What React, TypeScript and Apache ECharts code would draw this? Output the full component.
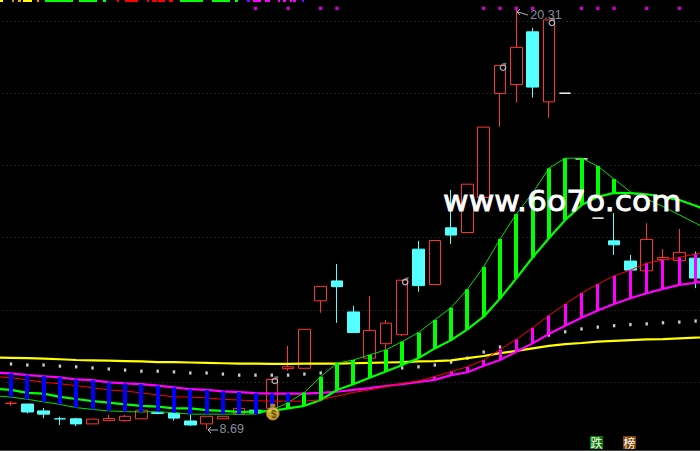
import React, { useEffect, useRef } from "react";
import * as echarts from "echarts";

// session index -1 .. 43 (the first and last sit just outside the picture)
const yellowLine = [10.68,10.67,10.66,10.65,10.63,10.61,10.60,10.59,10.58,10.57,10.55,10.55,10.54,10.53,10.52,10.51,10.51,10.50,10.50,10.51,10.51,10.51,10.52,10.53,10.54,10.55,10.57,10.58,10.60,10.66,10.72,10.80,10.86,10.93,11.00,11.05,11.08,11.12,11.14,11.16,11.18,11.19,11.21,11.23,11.24];
const whiteDots = [null,10.50,10.47,10.47,10.44,10.42,10.39,10.36,10.33,10.30,10.30,10.28,10.25,10.25,10.22,10.19,10.19,10.19,10.19,10.22,10.25,10.28,10.30,10.33,10.36,10.39,10.42,10.47,10.55,10.66,10.83,10.97,11.11,11.22,11.30,11.39,11.47,11.52,11.56,11.59,11.61,11.64,11.66,11.69,null];
const magentaLine = [10.26,10.24,10.19,10.16,10.13,10.07,10.05,9.99,9.96,9.94,9.90,9.85,9.80,9.78,9.74,9.72,9.69,9.68,9.68,9.68,9.70,9.73,9.78,9.83,9.89,9.94,10.00,10.06,10.19,10.27,10.45,10.61,10.84,11.07,11.33,11.56,11.78,11.98,12.16,12.32,12.46,12.58,12.69,12.75,12.85];
const redLine = [10.15,10.12,10.06,9.99,9.95,9.90,9.84,9.78,9.75,9.70,9.64,9.59,9.58,9.56,9.52,9.50,9.48,9.47,9.47,9.47,9.51,9.61,9.71,9.78,9.87,9.96,10.03,10.15,10.29,10.42,10.61,10.90,11.18,11.50,11.84,12.16,12.46,12.71,12.94,13.10,13.29,13.38,13.45,13.55,13.63];
const thickGreen = [9.81,9.78,9.70,9.68,9.59,9.53,9.47,9.43,9.38,9.34,9.32,9.27,9.27,9.22,9.20,9.17,9.18,9.20,9.27,9.34,9.50,9.78,9.94,10.12,10.29,10.47,10.66,10.93,11.16,11.46,11.81,12.31,12.87,13.45,13.98,14.49,14.90,15.13,15.24,15.23,15.20,15.13,15.04,14.88,14.71];
const thinGreen = [9.62,9.58,9.52,9.45,9.38,9.29,9.24,9.20,9.18,9.17,9.18,9.15,9.11,9.11,9.11,9.11,9.11,9.22,9.43,9.71,10.15,10.52,10.61,10.75,10.89,11.12,11.37,11.72,12.06,12.57,13.19,13.96,14.65,15.23,15.92,16.20,16.20,15.98,15.62,15.27,15.07,14.86,14.63,14.40,14.16];

// [open, close, low, high] for sessions 0 .. 42
const candles = [
  [9.41,9.41,9.34,9.47],[9.39,9.17,9.13,9.39],[9.20,9.11,9.00,9.28],[8.98,8.98,8.81,9.04],[8.98,8.84,8.78,9.01],
  [8.84,8.97,8.84,8.97],[8.93,8.99,8.93,9.09],[8.93,9.05,8.90,9.09],[8.98,9.22,8.98,9.22],[9.15,9.13,9.11,9.22],
  [9.14,9.00,8.93,9.14],[8.92,8.81,8.78,9.09],[8.84,9.05,8.69,9.05],[8.98,9.05,8.98,9.05],[9.11,9.27,9.11,9.27],
  [9.22,9.14,9.14,9.22],[9.27,10.07,9.27,10.07],[10.37,10.42,10.31,11.00],[10.38,11.46,10.38,11.46],[12.25,12.65,11.92,12.65],
  [12.80,12.64,11.64,13.27],[11.94,11.37,11.37,12.11],[10.66,11.43,10.66,12.38],[11.06,11.63,10.89,11.72],[11.31,12.82,11.27,12.82],
  [13.68,12.67,12.50,13.91],[12.70,13.92,12.70,13.92],[14.27,14.07,13.82,15.32],[14.14,15.48,14.14,15.48],[15.11,17.06,15.11,17.06],
  [17.99,18.77,17.07,18.77],[18.24,19.27,17.74,20.31],[19.70,18.17,17.88,19.81],[17.76,20.03,17.32,20.03],[18.00,18.00,18.00,18.00],
  [16.18,16.18,16.18,16.18],[14.54,14.54,14.54,14.54],[13.91,13.80,13.52,14.68],[13.35,13.10,13.10,13.52],[13.08,13.95,13.08,14.40],
  [13.39,13.45,13.39,13.68],[13.36,13.59,13.36,14.24],[13.43,12.88,12.60,13.61],
];
const dojiColors: Record<number, string> = { 0: "#ff3333", 3: "#54ffff", 34: "#ffffff", 35: "#ffffff", 36: "#ffffff" };

const signalSessions = [15, 17, 19, 20, 29, 30, 31, 32, 35, 36, 37, 39, 41];
const signalLevel = 20.35;
const ringMarks: [number, number][] = [[16, 10.03], [24, 12.77], [30, 18.71], [33, 19.95]];
const bagMark: [number, number] = [16, 9.14];
const lowLabel = { session: 12, value: 8.69 };
const highLabel = { session: 31, value: 20.31 };
const topStrip: [number, number, string][] = [
  [0,3,"#ffff00"],[12,2,"#c8a000"],[18,3,"#ffa000"],[23,9,"#ffff00"],[37,2,"#ff9000"],
  [45,28,"#00ff00"],[79,18,"#00ff00"],[103,3,"#00ff00"],
  [117,2,"#ff0000"],[125,13,"#ff0000"],[147,2,"#ff0000"],[152,5,"#ff0000"],[158,7,"#ff0000"],[169,4,"#ff0000"],
  [180,23,"#00ff00"],[212,18,"#00ff00"],[235,3,"#00ff00"],
  [247,3,"#8000ff"],[253,8,"#ff00ff"],[265,5,"#ff00ff"],[278,2,"#ff00ff"],[283,3,"#ff00ff"],[290,2,"#ff00ff"],[293,3,"#ff00ff"],[302,2,"#8000ff"],
];

const categories = yellowLine.map((_, i) => String(i - 1));
const pos = (session: number) => session + 1;

function barRenderer(width: number, color: string) {
  return (_: any, api: any) => {
    const a = api.coord([api.value(0), api.value(1)]);
    const b = api.coord([api.value(0), api.value(2)]);
    return {
      type: "rect",
      shape: { x: Math.round(a[0] - width / 2), y: Math.min(a[1], b[1]), width, height: Math.abs(a[1] - b[1]) },
      style: { fill: color },
    };
  };
}

export default function App() {
  const ref = useRef<HTMLDivElement>(null);
  useEffect(() => {
    document.body.style.background = "#000";
    const chart = echarts.init(ref.current!, undefined, { renderer: "svg" });

    const candleData = categories.map((_, idx) => {
      const c = candles[idx - 1];
      if (!c) return ["-", "-", "-", "-"];
      const doji = dojiColors[idx - 1];
      return doji ? { value: c, itemStyle: { borderColorDoji: doji, borderColor: doji, borderColor0: doji } } : c;
    });
    const blue: number[][] = [], green: number[][] = [], pink: number[][] = [];
    categories.forEach((_, idx) => {
      const session = idx - 1;
      if (session < 0 || session > 42) return;
      if (session <= 17 && thinGreen[idx] < magentaLine[idx]) blue.push([idx, magentaLine[idx], thinGreen[idx]]);
      if (thinGreen[idx] - thickGreen[idx] > 0.1) green.push([idx, thickGreen[idx], thinGreen[idx]]);
      if (redLine[idx] - magentaLine[idx] > 0.05) pink.push([idx, magentaLine[idx], redLine[idx]]);
    });
    const line = (data: any[], color: string, width: number, z: number) => ({
      type: "line", data, z, symbol: "none", smooth: false, silent: true,
      lineStyle: { color, width }, itemStyle: { color },
    });
    const custom = (data: number[][], w: number, color: string) => ({
      type: "custom", data, z: 7, silent: true,
      renderItem: barRenderer(w, color),
      encode: { x: 0, y: [1, 2] },
    });
    const textLabel = { color: "#aab6c0", fontFamily: "Liberation Sans", fontSize: 12.5 };

    chart.setOption({
      animation: false,
      backgroundColor: "#000",
      grid: { left: -13.45, top: -51.2, width: 733.5, height: 505.4, containLabel: false, outerBoundsMode: "none" },
      xAxis: { type: "category", data: categories, boundaryGap: true, axisLine: { show: false }, axisTick: { show: false }, axisLabel: { show: false }, splitLine: { show: false } },
      yAxis: {
        type: "value", min: 8, max: 22, interval: 2, axisLine: { show: false }, axisTick: { show: false }, axisLabel: { show: false },
        splitLine: { show: true, lineStyle: { color: "#3c3c3c", width: 1, type: [1, 3] } },
      },
      series: [
        {
          type: "candlestick", data: candleData, barWidth: 12, z: 1, silent: true,
          itemStyle: { color: "transparent", color0: "#54ffff", borderColor: "#ff3333", borderColor0: "#54ffff", borderColorDoji: "#ff3333", borderWidth: 1 },
        },
        { type: "scatter", data: whiteDots.map((v, i) => [i, v]).filter((d) => d[1] !== null), z: 2, symbol: "rect", symbolSize: [2.4, 3.2], itemStyle: { color: "#fff" }, silent: true },
        line(yellowLine, "#ffff00", 2.2, 3),
        line(magentaLine, "#ff00ff", 2.2, 5),
        line(thickGreen, "#00ff00", 2.2, 5),
        line(thinGreen, "#00e000", 1, 5),
        line(redLine, "#ff0000", 1, 6),
        custom(blue, 4, "#0000ff"),
        custom(green, 4, "#00ff00"),
        custom(pink, 3, "#ff00ff"),
        { type: "scatter", data: signalSessions.map((s) => [pos(s), signalLevel]), z: 8, symbol: "rect", symbolSize: 3.4, itemStyle: { color: "#ff00ff" }, silent: true },
        {
          type: "scatter", data: ringMarks.map(([s, v]) => [pos(s), v]), z: 8, symbol: "circle", symbolSize: 5.5, symbolOffset: [3, 0], silent: true,
          itemStyle: { color: "transparent", borderColor: "#cfe2f2", borderWidth: 1.2 },
        },
        {
          type: "scatter", data: ringMarks.map(([s, v]) => [pos(s), v]), z: 8, symbol: "arrow", symbolSize: 4, symbolOffset: [6.5, -5], symbolRotate: -45, silent: true,
          itemStyle: { color: "#8f8f8f" },
        },
        {
          type: "scatter", data: [[pos(bagMark[0]), bagMark[1]]], z: 9, symbol: "rect", symbolSize: [5, 3.5], symbolOffset: [1, -7.5], silent: true,
          itemStyle: { color: "#d8a020" },
        },
        {
          type: "scatter", data: [[pos(bagMark[0]), bagMark[1]]], z: 9, symbol: "circle", symbolSize: 13, symbolOffset: [1, 0.5], silent: true,
          itemStyle: { color: "#f6d040", borderColor: "#a06a10", borderWidth: 1 },
          label: { show: true, position: "inside", offset: [1, 0.5], formatter: "$", color: "#5a3408", fontSize: 10, fontWeight: "bold", fontFamily: "Liberation Sans" },
        },
        {
          type: "scatter", data: [[pos(lowLabel.session), lowLabel.value]], z: 9, symbolSize: 0, silent: true,
          label: { ...textLabel, show: true, position: "right", distance: 13, formatter: String(lowLabel.value) },
        },
        {
          type: "scatter", data: [[pos(highLabel.session), highLabel.value]], z: 9, symbolSize: 0, silent: true,
          label: { ...textLabel, show: true, position: "right", distance: 14, offset: [0, 5], formatter: String(highLabel.value) },
        },
      ],
      graphic: [
        ...topStrip.map(([x, w, c]) => ({ type: "rect", z: 20, shape: { x, y: 0, width: w, height: 2 }, style: { fill: c } })),
        { type: "rect", z: 20, shape: { x: 0, y: 450, width: 700, height: 1 }, style: { fill: "#444" } },
        { type: "polyline", z: 20, shape: { points: [[218, 430], [208, 430]] }, style: { stroke: "#aab6c0", lineWidth: 1, fill: "none" } },
        { type: "polyline", z: 20, shape: { points: [[211, 427], [208, 430], [211, 433]] }, style: { stroke: "#aab6c0", lineWidth: 1, fill: "none" } },
        { type: "polyline", z: 20, shape: { points: [[528, 15], [518, 12]] }, style: { stroke: "#aab6c0", lineWidth: 1, fill: "none" } },
        { type: "polyline", z: 20, shape: { points: [[520, 9], [517, 12], [520, 15]] }, style: { stroke: "#aab6c0", lineWidth: 1, fill: "none" } },
        {
          type: "text", z: 30, x: 443, y: 187, scaleX: 1.12,
          style: { text: "www.6o7o.com", fill: "#fff", stroke: "#fff", lineWidth: 0.8, font: "28px 'DejaVu Sans'", textVerticalAlign: "top" },
        },
        { type: "rect", z: 20, shape: { x: 590, y: 436, width: 13, height: 13 }, style: { fill: "#007a00" } },
        { type: "text", z: 21, x: 590.5, y: 436.5, style: { text: "跌", fill: "#fff", font: "12px 'Noto Sans CJK SC'" } },
        { type: "rect", z: 20, shape: { x: 623, y: 436, width: 13, height: 13 }, style: { fill: "#7f4000" } },
        { type: "text", z: 21, x: 623.5, y: 436.5, style: { text: "榜", fill: "#fff", font: "12px 'Noto Sans CJK SC'" } },
      ],
    });
    return () => chart.dispose();
  }, []);
  return <div ref={ref} style={{ position: "absolute", left: 0, top: 0, width: 700, height: 451 }} />;
}
